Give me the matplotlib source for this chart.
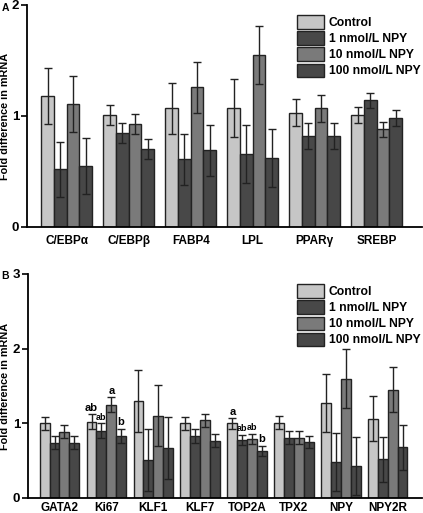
import numpy as np
import matplotlib.pyplot as plt

plt.rcParams['font.family'] = ['Liberation Sans', 'DejaVu Sans']
plt.rcParams['font.weight'] = 'bold'

series = ['Control', '1 nmol/L NPY', '10 nmol/L NPY', '100 nmol/L NPY']
colors = ['#c6c6c6', '#484848', '#7a7a7a', '#474747']

genes_a = ['C/EBPα', 'C/EBPβ', 'FABP4', 'LPL', 'PPARγ', 'SREBP']
ctrl_a = [1.18, 1.01, 1.07, 1.07, 1.03, 1.01]
n1_a = [0.52, 0.85, 0.61, 0.66, 0.82, 1.14]
n10_a = [1.11, 0.93, 1.26, 1.55, 1.07, 0.88]
n100_a = [0.55, 0.70, 0.69, 0.62, 0.82, 0.98]
err_a = [0.25, 0.09, 0.23, 0.26, 0.12, 0.07]

genes_b = ['GATA2', 'Ki67', 'KLF1', 'KLF7', 'TOP2A', 'TPX2', 'NPY', 'NPY2R']
ctrl_b = [1.00, 1.02, 1.30, 1.00, 1.00, 1.01, 1.27, 1.06]
n1_b = [0.74, 0.90, 0.51, 0.83, 0.78, 0.81, 0.48, 0.52]
n10_b = [0.89, 1.25, 1.10, 1.04, 0.79, 0.81, 1.60, 1.45]
n100_b = [0.74, 0.83, 0.67, 0.77, 0.63, 0.75, 0.43, 0.68]
err_b = [0.09, 0.10, 0.41, 0.09, 0.07, 0.085, 0.39, 0.30]

# significance letters: (gene index, series index, text)
letters_b = [(1, 0, 'ab'), (1, 1, 'ab'), (1, 2, 'a'), (1, 3, 'b'),
             (4, 0, 'a'), (4, 1, 'ab'), (4, 2, 'ab'), (4, 3, 'b')]


def draw_panel(ax, genes, vals, errs, ymax, width, xlim, xpad, letters=None):
    x = np.arange(len(genes))
    for i, v in enumerate(vals):
        xs = x + (i - 1.5) * width
        ax.bar(xs, v, width, color=colors[i], edgecolor='#222222', linewidth=1.0,
               label=series[i], zorder=2)
        ax.errorbar(xs, v, yerr=errs, fmt='none', ecolor='#222222', elinewidth=1.0,
                    capsize=3, capthick=1.0, zorder=3)
    if letters:
        for g, s, t in letters:
            xx = x[g] + (s - 1.5) * width
            yy = vals[s][g] + errs[g] + 0.02
            fs = 6.5 if t == 'ab' and s > 0 else 8
            ax.text(xx, yy, t, ha='center', va='bottom', fontsize=fs, fontweight='bold')
    ax.set_xlim(*xlim)
    ax.set_ylim(0, ymax)
    ax.set_yticks(range(ymax + 1))
    ax.set_xticks(x)
    ax.set_xticklabels(genes, fontsize=8.5, fontweight='bold')
    ax.tick_params(axis='x', length=0, pad=xpad)
    ax.tick_params(axis='y', length=4, width=1.2, labelsize=9.5, pad=1.5)
    for lab in ax.get_yticklabels():
        lab.set_fontweight('bold')
    ax.spines['top'].set_visible(False)
    ax.spines['right'].set_visible(False)
    ax.spines['left'].set_linewidth(1.3)
    ax.spines['bottom'].set_linewidth(1.3)
    ax.legend(loc='upper right', bbox_to_anchor=(1.008, 0.975), frameon=False,
              handlelength=2.3, handleheight=1.3, labelspacing=0.2, handletextpad=0.35,
              borderaxespad=0.0, prop={'weight': 'bold', 'size': 8.7})


fig = plt.figure(figsize=(4.23, 5.13), dpi=100)
W, H = 423, 513
ax_a = fig.add_axes([27 / W, 1 - 227 / H, (422 - 27) / W, (227 - 5) / H])
ax_b = fig.add_axes([28 / W, 1 - 498 / H, (422 - 28) / W, (498 - 274) / H])

draw_panel(ax_a, genes_a, [ctrl_a, n1_a, n10_a, n100_a], err_a, 2, 0.205,
           (-0.64, 5.73), 6)
draw_panel(ax_b, genes_b, [ctrl_b, n1_b, n10_b, n100_b], err_b, 3, 0.21,
           (-0.67, 7.73), 3, letters_b)

fig.text(5 / W, 1 - 116 / H, 'Fold difference in mRNA', rotation=90, fontsize=7.8,
         fontweight='bold', ha='center', va='center')
fig.text(5 / W, 1 - 386 / H, 'Fold difference in mRNA', rotation=90, fontsize=7.8,
         fontweight='bold', ha='center', va='center')

fig.text(1.5 / W, 1 - 8 / H, 'A', fontsize=7.5, fontweight='bold', va='center')
fig.text(1.5 / W, 1 - 276 / H, 'B', fontsize=7.5, fontweight='bold', va='center')

fig.savefig('out.png', dpi=100)
